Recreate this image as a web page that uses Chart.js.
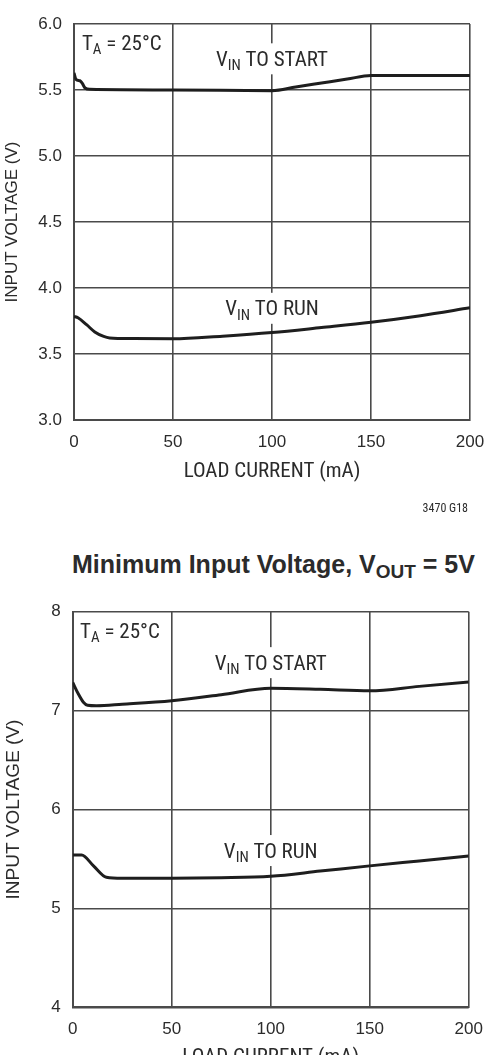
<!DOCTYPE html>
<html>
<head>
<meta charset="utf-8">
<script src="https://cdn.jsdelivr.net/npm/chart.js@4.4.1/dist/chart.umd.min.js"></script>
<style>
  html, body { margin: 0; padding: 0; background: #fff; overflow: hidden; }
  body { width: 487px; height: 1055px; position: relative; }
  canvas { position: absolute; left: 0; }
  #title2 {
    position: absolute; left: 72px; width: 400px; top: 549px;
    text-align: center; white-space: nowrap;
    font: bold 25px "Liberation Sans", Arial, sans-serif; color: #2b2b2b; line-height: 30px;
  }
  #title2 sub { font-size: 19px; vertical-align: -5px; line-height: 0; }
</style>
</head>
<body>
<canvas id="chartTop" width="487" height="530" style="top:0"></canvas>
<div id="title2">Minimum Input Voltage, V<sub>OUT</sub> = 5V</div>
<canvas id="chartBottom" width="487" height="545" style="top:530px"></canvas>
<script>
// load current (mA) and input voltage (V), top chart
const startCurrentTop = [0, 1, 3, 4.2, 5.6, 8, 50, 100, 112, 125, 138, 150, 200];
const startVoltsTop   = [5.63, 5.58, 5.57, 5.55, 5.515, 5.505, 5.5, 5.495, 5.523, 5.553, 5.583, 5.61, 5.61];
const runCurrentTop   = [0, 2, 6.5, 10.5, 15, 18, 30, 50, 75, 100, 125, 150, 175, 200];
const runVoltsTop     = [3.785, 3.775, 3.72, 3.667, 3.633, 3.622, 3.617, 3.615, 3.635, 3.662, 3.70, 3.74, 3.79, 3.85];

// V_OUT = 5V chart (bottom)
const startCurrentBot = [0, 2.8, 5.4, 7.5, 12, 25, 50, 75, 100, 125, 150, 175, 200];
const startVoltsBot   = [7.285, 7.17, 7.085, 7.055, 7.05, 7.065, 7.1, 7.16, 7.225, 7.215, 7.2, 7.245, 7.29];
const runCurrentBot   = [0, 4.5, 10.5, 17, 25, 50, 75, 100, 125, 150, 175, 200];
const runVoltsBot     = [5.54, 5.54, 5.43, 5.315, 5.305, 5.305, 5.31, 5.325, 5.377, 5.43, 5.48, 5.53];

const xTicks = [0, 50, 100, 150, 200];
const yTicksTop = [3.0, 3.5, 4.0, 4.5, 5.0, 5.5, 6.0];
const yTicksBot = [4, 5, 6, 7, 8];

const NARROW = '"Liberation Sans Narrow", "Arial Narrow", "Roboto Condensed", sans-serif';
const SANS = '"Liberation Sans", Arial, sans-serif';
const textColor = '#2b2b2b';
const gridColor = '#4a4a4a';
const lineColor = '#1e1e1e';

function toPoints(xs, ys) {
  return xs.map((x, i) => ({ x: x, y: ys[i] }));
}

// text notes with subscripts, anchored in data coordinates
const notesPlugin = {
  id: 'notes',
  afterDatasetsDraw(chart, args, opts) {
    const ctx = chart.ctx;
    const xs = chart.scales.x, ys = chart.scales.y;
    const mainFont = '21px ' + NARROW;
    const subFont = '15px ' + NARROW;
    opts.items.forEach(item => {
      ctx.save();
      let w = 0;
      item.parts.forEach(p => {
        ctx.font = p[1] ? subFont : mainFont;
        w += ctx.measureText(p[0]).width;
      });
      const px = xs.getPixelForValue(item.x);
      const py = ys.getPixelForValue(item.y);
      let left = item.align === 'left' ? px : px - w / 2;
      if (item.bg) {
        ctx.fillStyle = '#fff';
        ctx.fillRect(left - 5, py - 15, w + 10, 31);
      }
      ctx.fillStyle = textColor;
      ctx.textBaseline = 'alphabetic';
      ctx.textAlign = 'left';
      item.parts.forEach(p => {
        ctx.font = p[1] ? subFont : mainFont;
        ctx.fillText(p[0], left, py + (p[1] ? 12 : 7.5));
        left += ctx.measureText(p[0]).width;
      });
      ctx.restore();
    });
  }
};

const footPlugin = {
  id: 'foot',
  afterDraw(chart, args, opts) {
    if (!opts.text) return;
    const ctx = chart.ctx;
    ctx.save();
    ctx.font = '12px ' + NARROW;
    ctx.fillStyle = textColor;
    ctx.textAlign = 'right';
    ctx.textBaseline = 'alphabetic';
    ctx.fillText(opts.text, chart.chartArea.right - 2, chart.chartArea.bottom + 92);
    ctx.restore();
  }
};

function makeChart(id, cfg) {
  return new Chart(document.getElementById(id), {
    type: 'line',
    data: {
      datasets: [
        { label: 'VIN TO START', data: toPoints(cfg.startX, cfg.startY) },
        { label: 'VIN TO RUN', data: toPoints(cfg.runX, cfg.runY) }
      ]
    },
    options: {
      responsive: false,
      maintainAspectRatio: false,
      devicePixelRatio: 1,
      animation: false,
      layout: { padding: cfg.padding },
      elements: {
        point: { radius: 0 },
        line: { borderColor: lineColor, borderWidth: 3, cubicInterpolationMode: 'monotone', fill: false }
      },
      scales: {
        x: {
          type: 'linear', min: 0, max: 200,
          afterBuildTicks: s => { s.ticks = xTicks.map(v => ({ value: v })); },
          afterFit: s => { s.height = cfg.xHeight; s.paddingLeft = 0; s.paddingRight = 0; },
          ticks: { font: { family: SANS, size: 17 }, color: textColor, padding: cfg.xTickPad, maxRotation: 0 },
          grid: { color: gridColor, lineWidth: 1.6, drawTicks: false },
          border: { color: gridColor, width: 2 },
          title: { display: true, text: 'LOAD CURRENT (mA)', color: textColor, font: { family: NARROW, size: 21 }, padding: 0 }
        },
        y: {
          type: 'linear', min: cfg.yMin, max: cfg.yMax,
          afterBuildTicks: s => { s.ticks = cfg.yTicks.map(v => ({ value: v })); },
          afterFit: s => { s.width = cfg.yWidth; s.paddingTop = 0; s.paddingBottom = 0; },
          ticks: { font: { family: SANS, size: 17 }, color: textColor, padding: 12,
                   callback: v => v.toFixed(cfg.decimals) },
          grid: { color: gridColor, lineWidth: 1.6, drawTicks: false },
          border: { color: gridColor, width: 2 },
          title: { display: true, text: 'INPUT VOLTAGE (V)', color: textColor, font: { family: SANS, size: cfg.yTitleSize }, padding: { top: 2, bottom: 0 } }
        }
      },
      plugins: {
        legend: { display: false },
        tooltip: { enabled: false },
        notes: { items: cfg.notes },
        foot: { text: cfg.foot }
      }
    },
    plugins: [notesPlugin, footPlugin]
  });
}

makeChart('chartTop', {
  startX: startCurrentTop, startY: startVoltsTop,
  runX: runCurrentTop, runY: runVoltsTop,
  yMin: 3, yMax: 6, yTicks: yTicksTop, decimals: 1,
  padding: { top: 24, right: 17, bottom: 45.4, left: 0 },
  yWidth: 74, xHeight: 64.6, xTickPad: 12, yTitleSize: 17,
  foot: '3470 G18',
  notes: [
    { x: 4, y: 5.86, align: 'left', parts: [['T', false], ['A', true], [' = 25°C', false]] },
    { x: 100, y: 5.74, bg: true, parts: [['V', false], ['IN', true], [' TO START', false]] },
    { x: 100, y: 3.85, bg: true, parts: [['V', false], ['IN', true], [' TO RUN', false]] }
  ]
});

makeChart('chartBottom', {
  startX: startCurrentBot, startY: startVoltsBot,
  runX: runCurrentBot, runY: runVoltsBot,
  yMin: 4, yMax: 8, yTicks: yTicksBot, decimals: 0,
  padding: { top: 81.7, right: 18.3, bottom: 4.4, left: 0 },
  yWidth: 72.7, xHeight: 63.3, xTickPad: 11.5, yTitleSize: 19,
  foot: '',
  notes: [
    { x: 3.7, y: 7.81, align: 'left', parts: [['T', false], ['A', true], [' = 25°C', false]] },
    { x: 100, y: 7.49, bg: true, parts: [['V', false], ['IN', true], [' TO START', false]] },
    { x: 100, y: 5.59, bg: true, parts: [['V', false], ['IN', true], [' TO RUN', false]] }
  ]
});
</script>
</body>
</html>
